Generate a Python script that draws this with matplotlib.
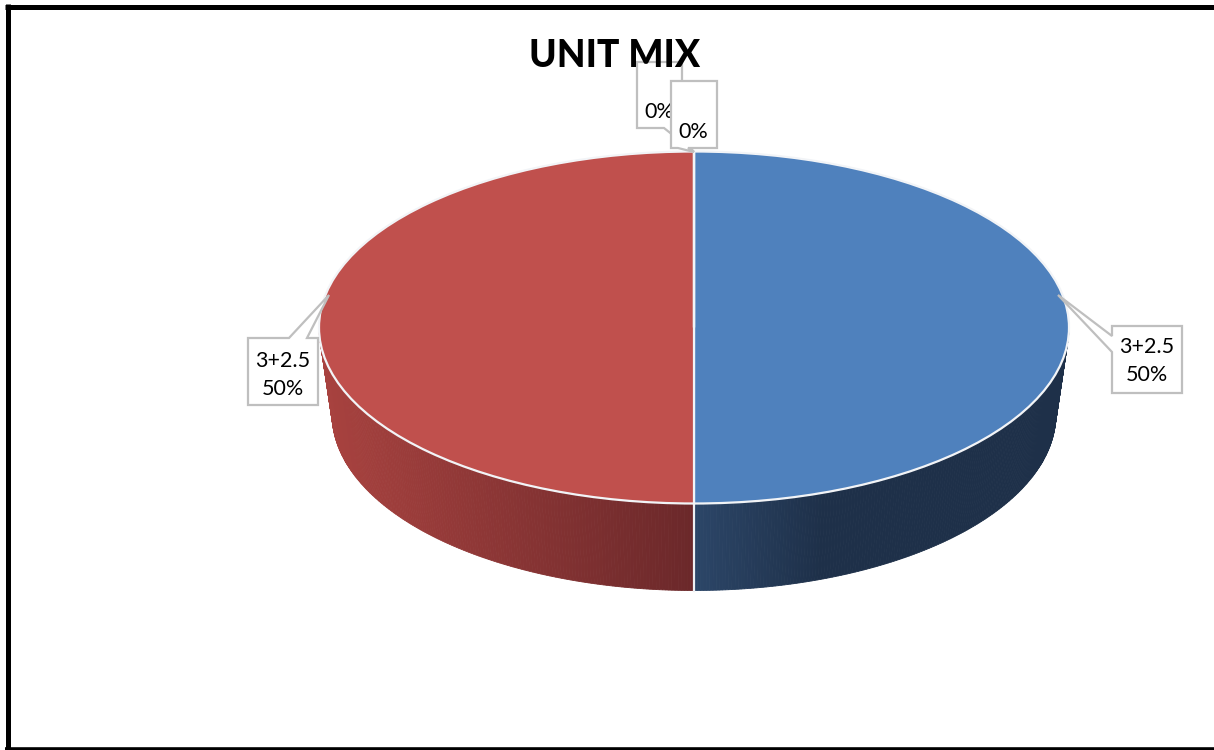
import numpy as np
import matplotlib
matplotlib.use('Agg')
import matplotlib.pyplot as plt
from matplotlib.colors import to_rgb
from matplotlib.patches import Polygon

plt.rcParams['font.family'] = ['Lato', 'DejaVu Sans']

# chart data
title = 'UNIT MIX'
shares = [50, 50, 0, 0]
slice_labels = ['3+2.5\n50%', '3+2.5\n50%', '0%', '0%']
top_colors = ['#4f81bd', '#c0504d', '#9bbb59', '#8064a2']

# side wall shading: colour at the seam, colour at the outer edge,
# and how far out (share of radius) the colour change runs
wall_seam = ['#2c4668', '#6b282a']
wall_outer = ['#1e3049', '#a8423f']
wall_ramp = [0.35, 1.0]

W, H = 1214, 750
fig = plt.figure(figsize=(W / 100, H / 100), dpi=100, facecolor='white')

# pie ellipse in pixels
cx, cy, rx, ry = 694, 327.5, 375, 176
depth = 87 / ry
shrink = 0.965

ax = fig.add_axes([(cx - rx) / W, 1 - (cy + ry) / H, 2 * rx / W, 2 * ry / H])
wedges, _ = ax.pie(shares, colors=top_colors, startangle=90, counterclock=False, radius=1,
                   wedgeprops=dict(edgecolor='#f2f4f7', linewidth=1.6, zorder=5))
ax.set_aspect('auto')
ax.set_xlim(-1, 1)
ax.set_ylim(-1, 1)
ax.axis('off')
for w in wedges:
    w.set_clip_on(False)

# side wall, the front quarter of each slice
start = 90.0
for i, share in enumerate(shares):
    sweep = 360.0 * share / sum(shares)
    end = start - sweep
    if share > 0:
        # angles run from the seam at the bottom out to the side
        side = 1 if np.cos(np.radians((start + end) / 2)) > 0 else -1
        theta = np.radians(-90 + side * np.linspace(0, 90, 181))
        for k in range(len(theta) - 1):
            t = theta[k:k + 2]
            x = np.cos(t)
            y = np.sin(t)
            f = min(1.0, abs(x.mean()) / wall_ramp[i])
            col = np.array(to_rgb(wall_seam[i])) * (1 - f) + np.array(to_rgb(wall_outer[i])) * f
            ax.fill([x[0], x[1], x[1] * shrink, x[0] * shrink],
                    [y[0], y[1], y[1] - depth, y[0] - depth],
                    color=col, lw=0.6, zorder=2, clip_on=False)
    start = end

# seam between the slices on the wall
ax.plot([0, 0], [-1, -1 - depth], color='#eef0f3', lw=1.6, zorder=3, clip_on=False)

# overlay in pixel coordinates for frame, title and callouts
ov = fig.add_axes([0, 0, 1, 1], facecolor='none')
ov.set_xlim(0, W)
ov.set_ylim(H, 0)
ov.axis('off')

ov.plot([5, W], [6.5, 6.5], color='black', lw=3.6, zorder=1, solid_capstyle='butt')
ov.plot([7.5, 7.5], [4, H], color='black', lw=3.6, zorder=1, solid_capstyle='butt')
ov.plot([5, W], [748.5, 748.5], color='black', lw=2.6, zorder=1, solid_capstyle='butt')

# outline of each callout, text position
callouts = [
    ([(1112, 326), (1182, 326), (1182, 393), (1112, 393), (1112, 352), (1058, 295), (1112, 336)], 1147, 361),
    ([(248, 338), (289, 338), (329, 295), (307, 338), (318, 338), (318, 405), (248, 405)], 283, 375),
    ([(637, 62), (682, 62), (682, 128), (674, 128), (694, 152), (664, 128), (637, 128)], 659, 112),
    ([(671, 81), (717, 81), (717, 148), (688, 148), (694, 152), (678, 148), (671, 148)], 693, 132),
]
for i, (outline, tx, ty) in enumerate(callouts):
    ov.add_patch(Polygon(outline, closed=True, facecolor='white', edgecolor='#bfbfbf', lw=1.6,
                         zorder=6 + i, joinstyle='miter'))
    ov.text(tx, ty, slice_labels[i], ha='center', va='center', fontsize=15.5, color='black',
            linespacing=1.55, zorder=6 + i)

ov.text(614.5, 56, title, ha='center', va='center', fontsize=26.7, fontweight='black',
        color='black', zorder=20)

fig.savefig('out.png', dpi=100)
